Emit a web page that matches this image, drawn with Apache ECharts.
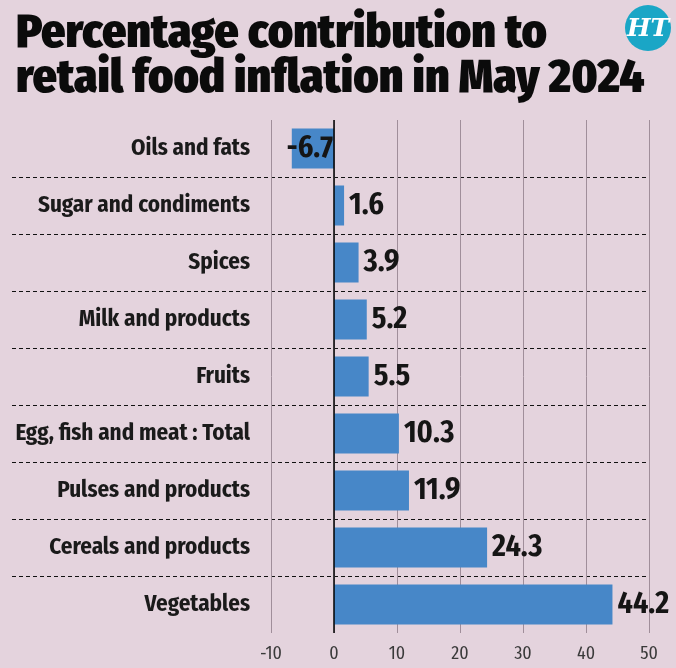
<!DOCTYPE html>
<html>
<head>
<meta charset="utf-8">
<script src="https://cdn.jsdelivr.net/npm/echarts@6/dist/echarts.min.js"></script>
<style>
html,body{margin:0;padding:0;background:#e4d3dd;}
#chart{width:676px;height:668px;}
</style>
</head>
<body>
<div id="chart"></div>
<script>
// top to bottom, as in the picture
var categories = ['Oils and fats','Sugar and condiments','Spices','Milk and products','Fruits','Egg, fish and meat : Total','Pulses and products','Cereals and products','Vegetables'];
var values = [-6.7,1.6,3.9,5.2,5.5,10.3,11.9,24.3,44.2];
var xMin = -10, xMax = 50, xStep = 10;

var condensed = '"Fira Sans Condensed","Roboto Condensed","Open Sans Condensed",sans-serif';

var barData = values.map(function(v){
	if(v < 0){
		// negative bar: number sits over the bar, right aligned at zero
		return {value:v, label:{position:'insideRight', distance:1}};
	}
	return v;
});

var chart = echarts.init(document.getElementById('chart'));
chart.setOption({
	backgroundColor:'#e4d3dd',
	animation:false,
	title:{
		text:'Percentage contribution to\nretail food inflation in May 2024',
		left:11,
		top:6,
		textStyle:{
			fontFamily:condensed,
			fontSize:47.5,
			fontWeight:900,
			lineHeight:45,
			color:'#0b0b0b'
		}
	},
	graphic:[
		{type:'circle', shape:{cx:648, cy:28, r:23}, style:{fill:'#1aa6c6'}},
		{type:'text', x:648, y:29, style:{text:'HT', fill:'#ffffff', font:'italic bold 25px "DejaVu Serif",serif', align:'center', verticalAlign:'middle'}}
	],
	grid:[
		// separators reach across the label column
		{left:12, right:26, top:120, bottom:35, outerBoundsMode:'none'},
		{left:271, right:27, top:120, bottom:35, outerBoundsMode:'none'}
	],
	xAxis:[
		{gridIndex:0, type:'value', min:xMin, max:xMax, show:false},
		{
			gridIndex:1, type:'value', min:xMin, max:xMax, interval:xStep,
			axisLine:{show:false},
			axisTick:{show:false},
			axisLabel:{color:'#3a3a3a', fontFamily:condensed, fontSize:18, margin:12},
			splitLine:{show:true, lineStyle:{color:'#a08e9a', width:1}}
		}
	],
	yAxis:[
		{
			gridIndex:0, type:'category', data:categories, inverse:true,
			axisLine:{show:false}, axisTick:{show:false}, axisLabel:{show:false},
			splitLine:{show:true, showMinLine:false, showMaxLine:false, lineStyle:{color:'#111', type:[4,3], width:1}}
		},
		{
			gridIndex:1, type:'category', data:categories, inverse:true,
			axisLine:{show:false}, axisTick:{show:false},
			axisLabel:{color:'#1a1a1a', fontFamily:condensed, fontSize:23, fontWeight:'bold', margin:21},
			splitLine:{show:false}
		}
	],
	series:[{
		type:'bar',
		xAxisIndex:1,
		yAxisIndex:1,
		data:barData,
		barWidth:40,
		itemStyle:{color:'#4787c8'},
		label:{
			show:true,
			position:'right',
			distance:5,
			color:'#151515',
			fontFamily:condensed,
			fontSize:30,
			fontWeight:'bold'
		},
		markLine:{
			silent:true,
			symbol:'none',
			label:{show:false},
			lineStyle:{color:'#000', type:'solid', width:1.5},
			data:[{xAxis:0}]
		}
	}]
});
</script>
</body>
</html>
